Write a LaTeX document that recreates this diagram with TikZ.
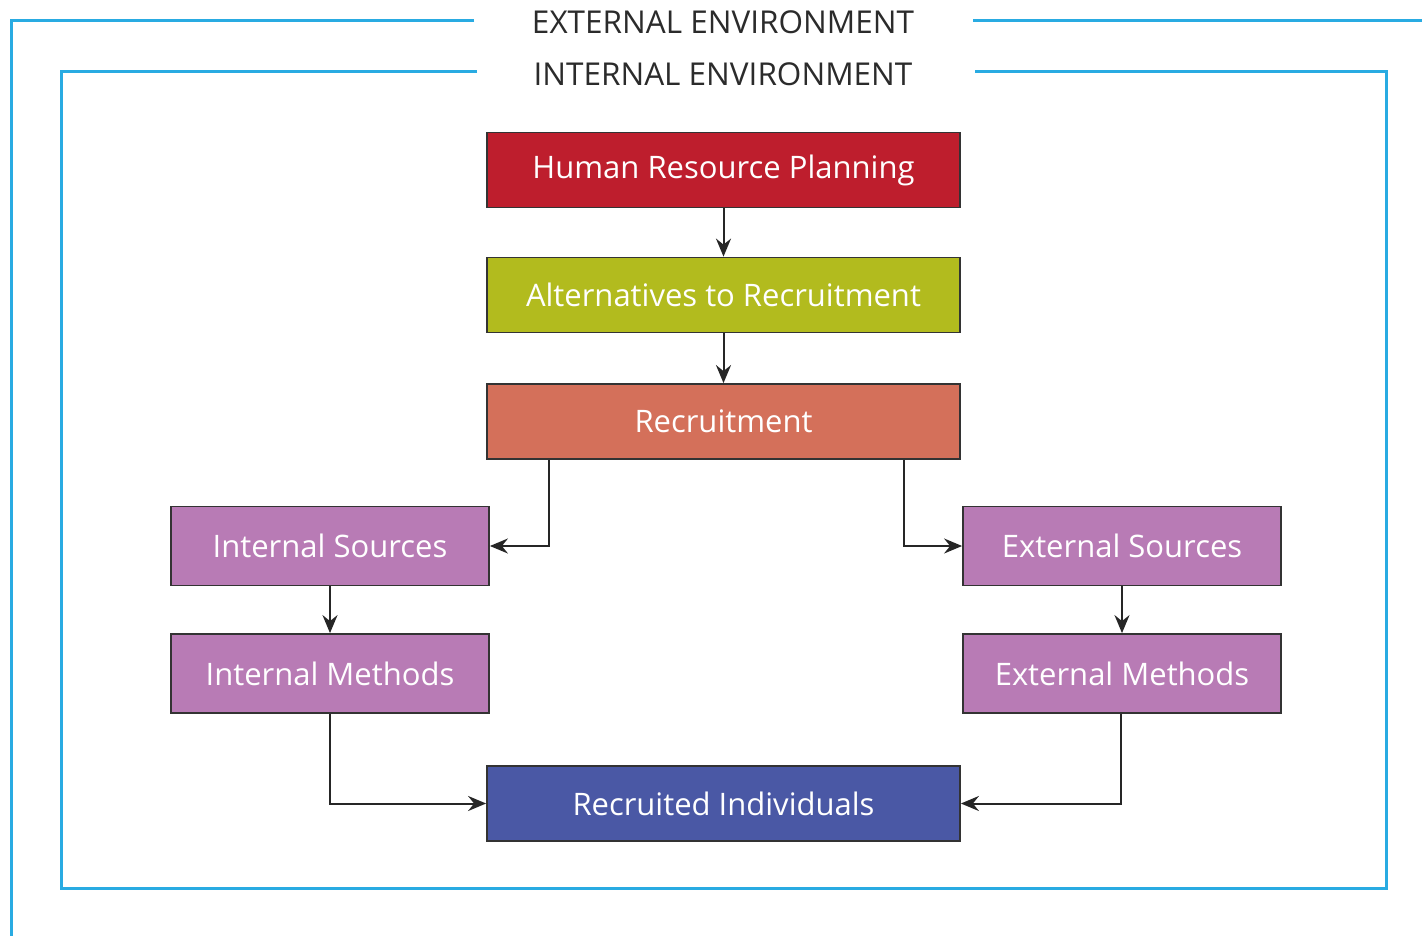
\documentclass[tikz,border=0pt]{standalone}
\usepackage{fontspec}
\setmainfont{Open Sans}
\usetikzlibrary{arrows.meta}
\definecolor{frameblue}{HTML}{29ABE2}
\definecolor{hrpred}{HTML}{BE1E2D}
\definecolor{altgreen}{HTML}{B2BB1E}
\definecolor{recorange}{HTML}{D4705A}
\definecolor{srcpurple}{HTML}{B87BB5}
\definecolor{indblue}{HTML}{4A58A5}
\definecolor{headgray}{HTML}{2B2B2B}
\tikzset{
  box/.style={draw=black!80, line width=1.8pt, text=white, inner sep=0pt,
    font=\fontsize{31}{36}\selectfont},
  wide/.style={box, minimum width=473pt, minimum height=75pt},
  side/.style={box, minimum width=318pt, minimum height=79pt},
  conn/.style={draw=black!85, line width=2pt, -{Stealth[length=18pt,width=15pt,inset=6pt]}},
  frame/.style={draw=frameblue, line width=3pt},
  head/.style={text=headgray, font=\fontsize{31.5}{36}\selectfont, inner sep=0pt}
}
\begin{document}
\begin{tikzpicture}[x=1pt,y=-1pt]
\useasboundingbox (0,0) rectangle (1422,936);
\fill[white] (0,0) rectangle (1422,936);
% frames
\coordinate (oTL) at (474,21);
\coordinate (oTR) at (973,21);
\draw[frame] (oTL) -- (11,21) -- (11,940);
\draw[frame] (oTR) -- (1425,21);
\coordinate (iTL) at (477,72);
\coordinate (iTR) at (975,72);
\draw[frame] (iTL) -- (61,72) -- (61,888) -- (1386,888) -- (1386,72) -- (iTR);
\node[head] (ext) at (723,22) {EXTERNAL ENVIRONMENT};
\node[head] (int) at (723,74) {INTERNAL ENVIRONMENT};
% boxes
\node[wide, fill=hrpred] (hrp) at (723.5,170) {Human Resource Planning};
\node[wide, fill=altgreen] (alt) at (723.5,295) {Alternatives to Recruitment};
\node[wide, fill=recorange] (rec) at (723.5,421.5) {Recruitment};
\node[side, fill=srcpurple] (is) at (330,546) {Internal Sources};
\node[side, fill=srcpurple] (es) at (1122,546) {External Sources};
\node[side, fill=srcpurple] (im) at (330,673.5) {Internal Methods};
\node[side, fill=srcpurple] (em) at (1122,673.5) {External Methods};
\node[wide, fill=indblue] (ri) at (723.5,803.5) {Recruited Individuals};
% connectors
\draw[conn] (hrp) -- (alt);
\draw[conn] (alt) -- (rec);
\draw[conn] (rec.south west) ++(63,0) |- (is.east);
\draw[conn] (rec.south east) ++(-57,0) |- (es.west);
\draw[conn] (is) -- (im);
\draw[conn] (es) -- (em);
\draw[conn] (im) |- (ri.west);
\draw[conn] (em.south) ++(-1,0) |- (ri.east);
\end{tikzpicture}
\end{document}
